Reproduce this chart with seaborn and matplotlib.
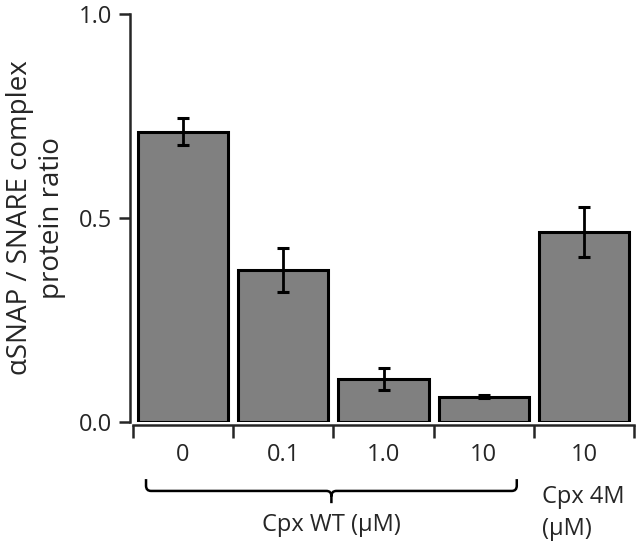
import matplotlib
matplotlib.use("Agg")
import matplotlib.pyplot as plt
import matplotlib.transforms as mtransforms
from matplotlib.path import Path
from matplotlib.patches import PathPatch
import seaborn as sns
import pandas as pd
import numpy as np

# data
conditions = ['WT 0', 'WT 0.1', 'WT 1.0', 'WT 10', '4M 10']
tick_labels = ['0', '0.1', '1.0', '10', '10']
ratio = [0.711, 0.373, 0.105, 0.062, 0.465]
ratio_err = [0.033, 0.054, 0.027, 0.004, 0.061]

df = pd.DataFrame({'condition': conditions, 'ratio': ratio, 'err': ratio_err})

sns.set_style('ticks')
plt.rcParams['font.family'] = ['Open Sans', 'DejaVu Sans']
plt.rcParams['font.size'] = 17

fig = plt.figure(figsize=(6.37, 5.41), dpi=100)
ax = fig.add_axes([0.2088, 0.22, 0.7865, 0.7542])

sns.barplot(data=df, x='condition', y='ratio', color='#808080', saturation=1,
            edgecolor='black', linewidth=2.2, width=0.9, errorbar=None, ax=ax)
ax.errorbar(np.arange(len(df)), df['ratio'], yerr=df['err'], fmt='none',
            ecolor='black', elinewidth=2, capsize=4.2, capthick=2.2, zorder=5)

ax.set_xlim(-0.5, len(df) - 0.5)
ax.set_ylim(0, 1.0)
ax.set_yticks([0.0, 0.5, 1.0])
ax.set_yticklabels(['0.0', '0.5', '1.0'])
ax.set_xticks(np.arange(len(df)))
ax.set_xticklabels(tick_labels)
ax.set_xticks(np.arange(len(df) + 1) - 0.5, minor=True)
ax.tick_params(axis='x', which='major', length=0, pad=13, labelsize=17)
ax.tick_params(axis='x', which='minor', length=9, width=1.8, direction='out')
ax.tick_params(axis='y', length=8, width=1.8, pad=5, labelsize=17)
ax.set_xlabel('')
ax.set_ylabel('αSNAP / SNARE complex\nprotein ratio', fontsize=20, labelpad=9,
              linespacing=1.2)

sns.despine(ax=ax, offset=2)
for s in ['left', 'bottom']:
    ax.spines[s].set_linewidth(1.8)

# bracket under the WT group
trans = mtransforms.blended_transform_factory(ax.transData, ax.transAxes)
x0, x1, xm = -0.37, 3.33, 1.48
yb, ye, yt = -0.169, -0.140, -0.199
rx, ry = 0.05, 0.013
verts = [(x0, ye), (x0, yb + ry), (x0, yb), (x0 + rx, yb),
         (xm - rx, yb), (xm, yb), (xm, yb - ry), (xm, yt),
         (xm, yb - ry), (xm, yb), (xm + rx, yb),
         (x1 - rx, yb), (x1, yb), (x1, yb + ry), (x1, ye)]
codes = [Path.MOVETO, Path.LINETO, Path.CURVE3, Path.CURVE3,
         Path.LINETO, Path.CURVE3, Path.CURVE3, Path.LINETO,
         Path.MOVETO, Path.CURVE3, Path.CURVE3,
         Path.LINETO, Path.CURVE3, Path.CURVE3, Path.LINETO]
ax.add_patch(PathPatch(Path(verts, codes), transform=trans, fill=False,
                       edgecolor='black', linewidth=1.8, clip_on=False))

ax.text(xm, -0.252, 'Cpx WT (μM)', transform=trans, ha='center', va='center',
        fontsize=17)
ax.text(3.58, -0.223, 'Cpx 4M\n(μM)', transform=trans, ha='left', va='center',
        fontsize=17, linespacing=1.45)

fig.savefig('out.png', dpi=100)
